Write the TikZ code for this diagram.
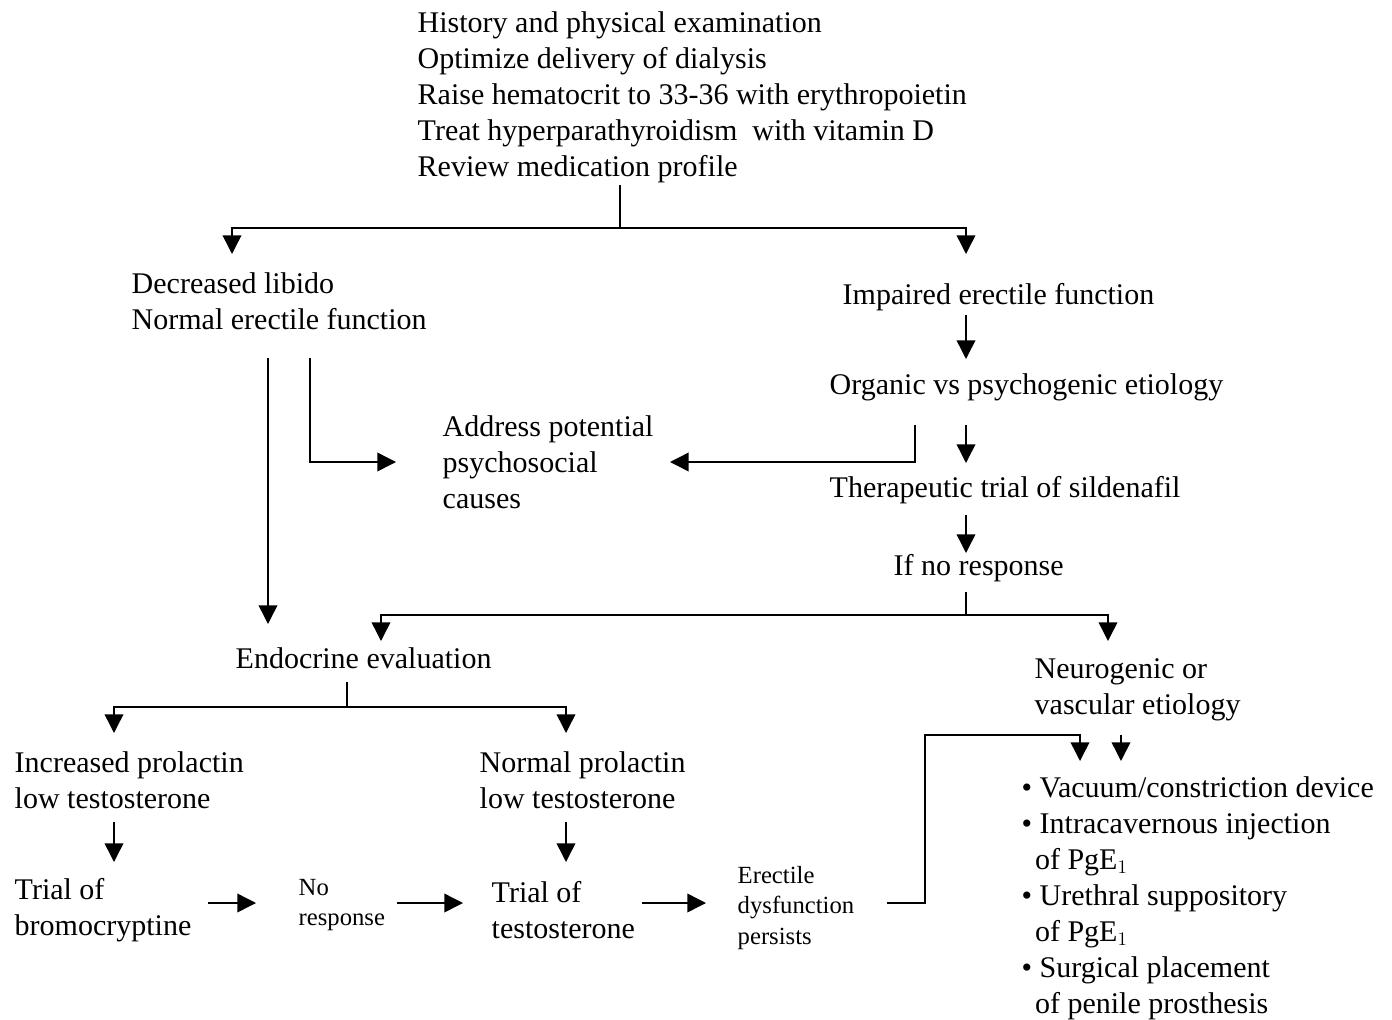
\documentclass[tikz,border=0pt]{standalone}
\usepackage{fontspec}
\setmainfont{Liberation Serif}
\usepackage{amsmath}
\usetikzlibrary{arrows.meta}

\tikzset{
  txt/.style={anchor=west,inner sep=0.75pt,align=left,font=\fontsize{22.5}{27}\selectfont},
  sml/.style={txt,font=\fontsize{18.5}{23}\selectfont},
  arr/.style={-{Triangle[width=14pt,length=14pt]}},
}

\begin{document}
\begin{tikzpicture}[x=0.75pt,y=0.75pt,yscale=-1,xscale=1,line width=1.1pt]
\useasboundingbox (0,0) rectangle (1392,1020);

% Text Node
\node[txt] (hist) at (416,97) {History and physical examination\\Optimize delivery of dialysis\\Raise hematocrit to 33-36 with erythropoietin\\Treat hyperparathyroidism\ \ with vitamin D\\Review medication profile};
% Text Node
\node[txt] (libido) at (130,301) {Decreased libido\\Normal erectile function};
% Text Node
\node[txt] (impair) at (841,297) {Impaired erectile function};
% Text Node
\node[txt] (organic) at (828,387) {Organic vs psychogenic etiology};
% Text Node
\node[txt] (psycho) at (441,462) {Address potential\\psychosocial\\causes};
% Text Node
\node[txt] (silden) at (828,490) {Therapeutic trial of sildenafil};
% Text Node
\node[txt] (noresp) at (892,568) {If no response};
% Text Node
\node[txt] (endo) at (234,658) {Endocrine evaluation};
% Text Node
\node[txt] (neuro) at (1033,690) {Neurogenic or\\vascular etiology};
% Text Node
\node[txt] (incprl) at (13,780) {Increased prolactin\\low testosterone};
% Text Node
\node[txt] (normprl) at (478,780) {Normal prolactin\\low testosterone};
% Text Node
\node[txt] (bromo) at (13,910) {Trial of\\bromocryptine};
% Text Node
\node[sml] (nores) at (297,905) {No\\response};
% Text Node
\node[txt] (testo) at (490,910) {Trial of\\testosterone};
% Text Node
\node[sml] (edpers) at (736,908) {Erectile\\dysfunction\\persists};
% Text Node
\node[txt] (treat) at (1020,898) {\textbullet\ Vacuum/constriction device\\\textbullet\ Intracavernous injection\\\hspace*{10pt}of PgE$_1$\\\textbullet\ Urethral suppository\\\hspace*{10pt}of PgE$_1$\\\textbullet\ Surgical placement\\\hspace*{10pt}of penile prosthesis};

% Junctions
\coordinate (c1) at (620,185);
\coordinate (c2) at (620,228);
\coordinate (c3) at (232,254);
\coordinate (c4) at (966,254);
\coordinate (c5) at (966,315);
\coordinate (c6) at (966,359);
\coordinate (c7) at (915,425);
\coordinate (c8) at (670,462);
\coordinate (c9) at (966,425);
\coordinate (c10) at (966,463);
\coordinate (c11) at (310,358);
\coordinate (c12) at (396,462);
\coordinate (c13) at (268,358);
\coordinate (c14) at (268,624);
\coordinate (c15) at (966,515);
\coordinate (c16) at (966,553);
\coordinate (c17) at (966,592);
\coordinate (c18) at (966,615);
\coordinate (c19) at (381,641);
\coordinate (c20) at (1108,641);
\coordinate (c21) at (347,682);
\coordinate (c22) at (347,707);
\coordinate (c23) at (114,733);
\coordinate (c24) at (566,733);
\coordinate (c25) at (114,822);
\coordinate (c26) at (114,862);
\coordinate (c27) at (566,822);
\coordinate (c28) at (566,862);
\coordinate (c29) at (208,903);
\coordinate (c30) at (256,903);
\coordinate (c31) at (397,903);
\coordinate (c32) at (463,903);
\coordinate (c33) at (642,903);
\coordinate (c34) at (706,903);
\coordinate (c35) at (887,903);
\coordinate (c36) at (925,735);
\coordinate (c37) at (1080,761);
\coordinate (c38) at (1121,735);
\coordinate (c39) at (1121,761);

%Straight Lines
\draw (c1) -- (c2);
\draw[arr] (c2) -| (c3);
\draw[arr] (c2) -| (c4);
\draw[arr] (c5) -- (c6);
\draw[arr] (c7) |- (c8);
\draw[arr] (c9) -- (c10);
\draw[arr] (c11) |- (c12);
\draw[arr] (c13) -- (c14);
\draw[arr] (c15) -- (c16);
\draw (c17) -- (c18);
\draw[arr] (c18) -| (c19);
\draw[arr] (c18) -| (c20);
\draw (c21) -- (c22);
\draw[arr] (c22) -| (c23);
\draw[arr] (c22) -| (c24);
\draw[arr] (c25) -- (c26);
\draw[arr] (c27) -- (c28);
\draw[arr] (c29) -- (c30);
\draw[arr] (c31) -- (c32);
\draw[arr] (c33) -- (c34);
\draw[arr] (c35) -| (c36) -| (c37);
\draw[arr] (c38) -- (c39);

\end{tikzpicture}
\end{document}
